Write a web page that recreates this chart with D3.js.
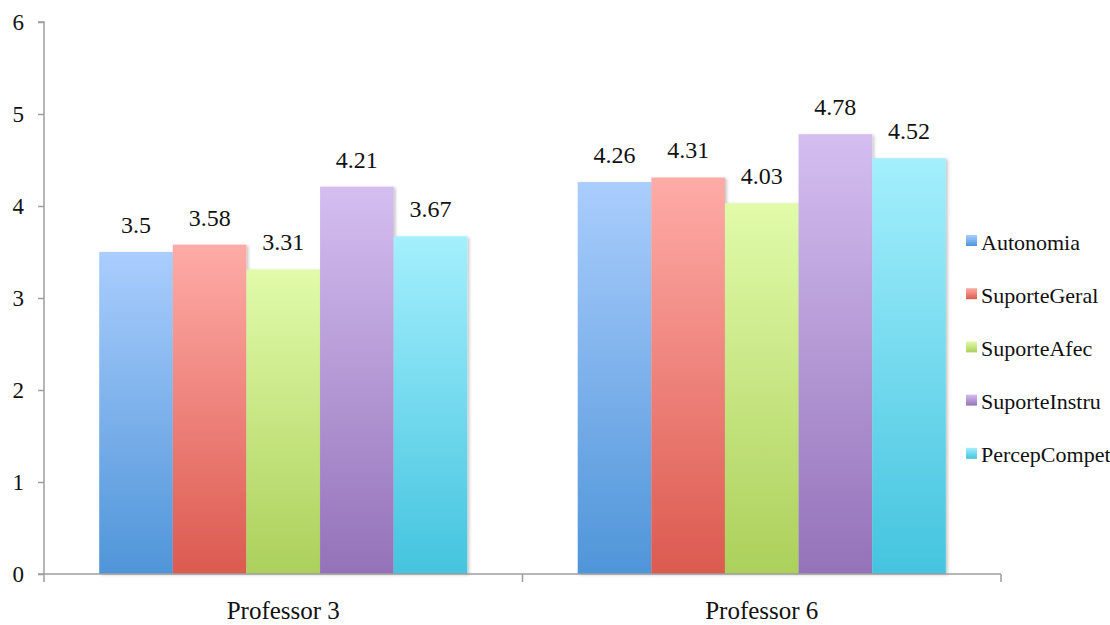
<!DOCTYPE html>
<html>
<head>
<meta charset="utf-8">
<script src="https://cdn.jsdelivr.net/npm/d3@7/dist/d3.min.js"></script>
<style>
  body { margin: 0; background: #fff; }
  svg { display: block; }
</style>
</head>
<body>
<svg id="chart" width="1110" height="625"></svg>
<script>
// Data
const categories = ["Professor 3", "Professor 6"];
const seriesNames = ["Autonomia", "SuporteGeral", "SuporteAfec", "SuporteInstru", "PercepCompet"];
const autonomia = [3.5, 4.26];
const suporteGeral = [3.58, 4.31];
const suporteAfec = [3.31, 4.03];
const suporteInstru = [4.21, 4.78];
const percepCompet = [3.67, 4.52];
const yTicks = [0, 1, 2, 3, 4, 5, 6];

const seriesValues = [autonomia, suporteGeral, suporteAfec, suporteInstru, percepCompet];
// top / bottom gradient stops for each series
const gradTop = ["#aacdfd", "#ffaba7", "#e1fbaa", "#d4bef0", "#a4effd"];
const gradBottom = ["#4f95d9", "#dc5a4f", "#acd05b", "#9472b9", "#44c4df"];

const FONT = "'Liberation Serif', 'Times New Roman', serif";

const svg = d3.select("#chart");
const margin = { left: 44, right: 109, top: 22, bottom: 51 };
const width = 1110, height = 625;

const x0 = d3.scaleBand()
  .domain(categories)
  .range([margin.left, width - margin.right])
  .paddingInner(0).paddingOuter(0);

// five bars per group with a gap of 150% of a bar between groups
const x1 = d3.scaleBand()
  .domain(seriesNames)
  .range([0, x0.bandwidth()])
  .paddingInner(0)
  .paddingOuter(0.75);

const y = d3.scaleLinear().domain([0, 6]).range([height - margin.bottom, margin.top]);

const defs = svg.append("defs");
seriesNames.forEach((s, i) => {
  const g = defs.append("linearGradient")
    .attr("id", "grad" + i)
    .attr("x1", 0).attr("y1", 0).attr("x2", 0).attr("y2", 1);
  g.append("stop").attr("offset", "0%").attr("stop-color", gradTop[i]);
  g.append("stop").attr("offset", "100%").attr("stop-color", gradBottom[i]);
});
const shadow = defs.append("filter").attr("id", "shadow")
  .attr("x", "-10%").attr("y", "-10%").attr("width", "130%").attr("height", "120%");
shadow.append("feDropShadow")
  .attr("dx", 2).attr("dy", 1).attr("stdDeviation", 1.5)
  .attr("flood-color", "#000").attr("flood-opacity", 0.22);

// Bars
const groups = svg.append("g").selectAll("g")
  .data(categories)
  .join("g")
  .attr("transform", d => `translate(${x0(d)},0)`);

groups.each(function (cat, ci) {
  const g = d3.select(this);
  const rows = seriesNames.map((s, si) => ({ s, si, v: seriesValues[si][ci] }));
  g.selectAll("rect")
    .data(rows)
    .join("rect")
    .attr("x", d => x1(d.s))
    .attr("y", d => y(d.v))
    .attr("width", x1.bandwidth())
    .attr("height", d => y(0) - y(d.v))
    .attr("fill", d => `url(#grad${d.si})`)
    .attr("filter", "url(#shadow)");
  g.selectAll("text.val")
    .data(rows)
    .join("text")
    .attr("class", "val")
    .attr("x", d => x1(d.s) + x1.bandwidth() / 2)
    .attr("y", d => y(d.v) - 19)
    .attr("text-anchor", "middle")
    .style("font-family", FONT)
    .style("font-size", "24px")
    .style("fill", "#111")
    .text(d => d.v);
});

// Y axis
const yAxis = svg.append("g")
  .attr("transform", `translate(${margin.left},0)`)
  .call(d3.axisLeft(y).tickValues(yTicks).tickSize(6).tickPadding(14).tickFormat(d3.format("d")));
yAxis.select(".domain").attr("stroke", "#9e9e9e").attr("stroke-width", 1.5)
  .attr("d", `M-6,${y(6)}H0V${y(0)}`);
yAxis.selectAll(".tick line").attr("stroke", "#9e9e9e").attr("stroke-width", 1.5);
yAxis.selectAll(".tick text")
  .style("font-family", FONT).style("font-size", "23px").style("fill", "#111");

// X axis
const xAxis = svg.append("g")
  .attr("transform", `translate(0,${y(0)})`);
xAxis.append("line")
  .attr("x1", margin.left - 6).attr("x2", width - margin.right)
  .attr("y1", 0).attr("y2", 0)
  .attr("stroke", "#9e9e9e").attr("stroke-width", 1.5);
const xEdges = categories.map(c => x0(c)).concat([x0(categories[categories.length - 1]) + x0.bandwidth()]);
xAxis.selectAll("line.tk")
  .data(xEdges)
  .join("line")
  .attr("class", "tk")
  .attr("x1", d => d).attr("x2", d => d)
  .attr("y1", 0).attr("y2", 8)
  .attr("stroke", "#9e9e9e").attr("stroke-width", 1.5);
xAxis.selectAll("text.cat")
  .data(categories)
  .join("text")
  .attr("class", "cat")
  .attr("x", d => x0(d) + x0.bandwidth() / 2)
  .attr("y", 45)
  .attr("text-anchor", "middle")
  .style("font-family", FONT).style("font-size", "25px").style("fill", "#111")
  .text(d => d);

// Legend
const legend = svg.append("g").attr("transform", "translate(966,241)");
const item = legend.selectAll("g")
  .data(seriesNames)
  .join("g")
  .attr("transform", (d, i) => `translate(0,${i * 53.2})`);
item.append("rect")
  .attr("x", 0).attr("y", -6).attr("width", 11).attr("height", 11)
  .attr("fill", (d, i) => `url(#grad${i})`);
item.append("text")
  .attr("x", 15).attr("y", 8.5)
  .style("font-family", FONT).style("font-size", "22px").style("fill", "#111")
  .text(d => d);
</script>
</body>
</html>
